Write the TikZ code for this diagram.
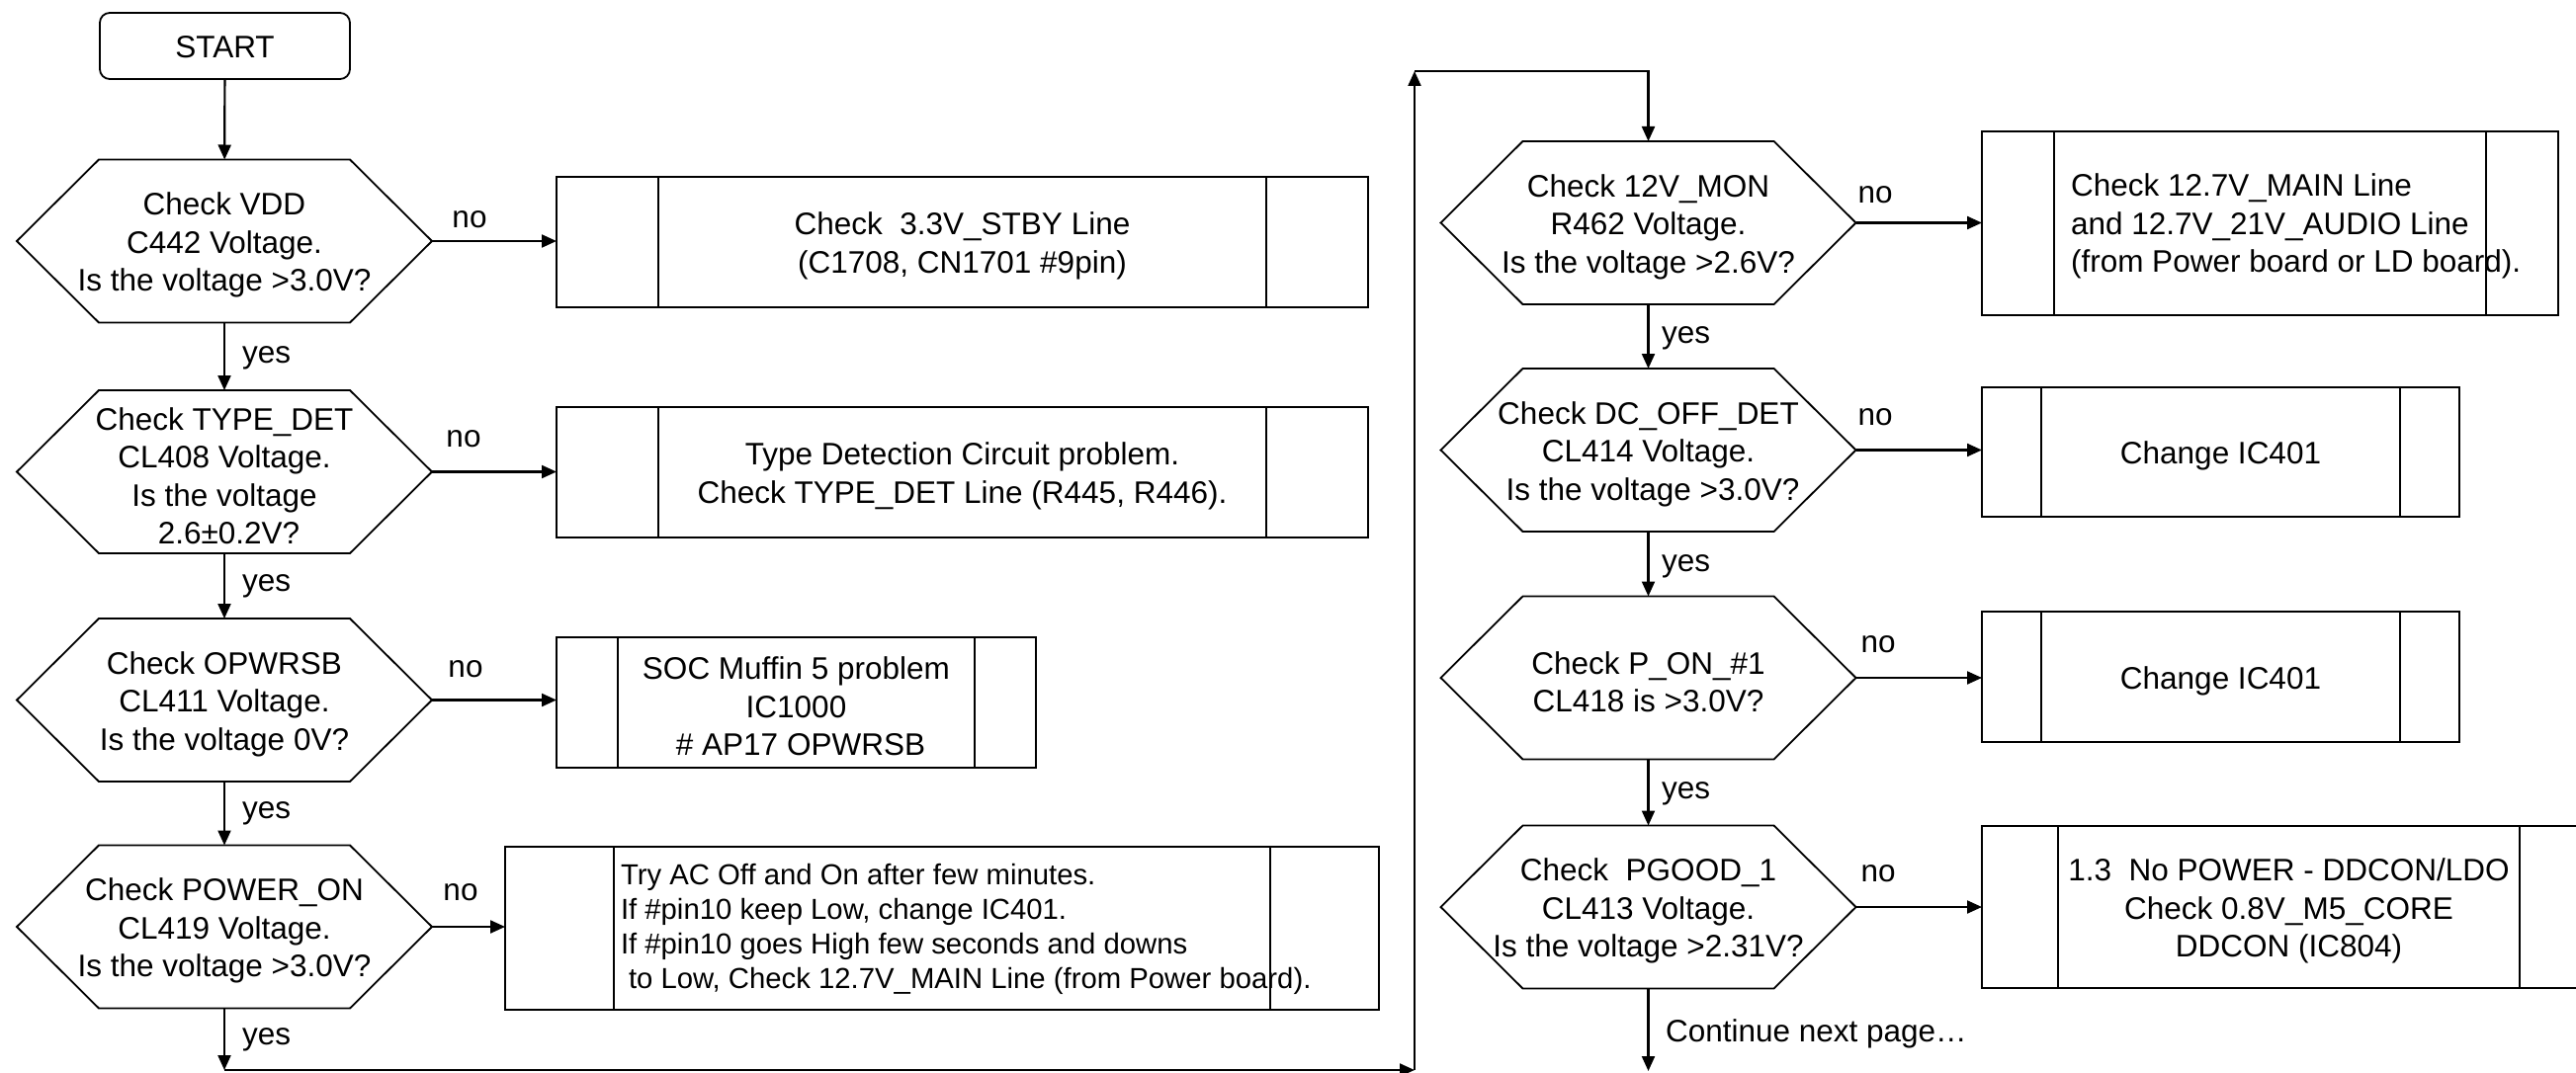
\documentclass[tikz,border=0pt]{standalone}
\usepackage{fontspec}
\setmainfont{Liberation Sans}
\usetikzlibrary{arrows.meta,calc}
\tikzset{
  base/.style={inner sep=0pt, outer sep=0pt, font=\fontsize{31.5}{38.5}\selectfont, align=center},
  lbl/.style={base},
  txt/.style={label={[lbl,yshift=-4pt]center:{#1}}},
  hexnode/.style={base, minimum width=420pt, minimum height=165pt},
  procbox/.style={base, draw, line width=1.8pt, rectangle},
  startbox/.style={base, draw, line width=1.8pt, rounded corners=10pt, minimum width=253pt, minimum height=67pt},
  arr/.style={line width=2.2pt, -{Triangle[length=15pt,width=13pt]}},
}
\newcommand{\hexdraw}[1]{\draw[line width=1.8pt] (#1.west) -- ([xshift=83pt]#1.north west) -- ([xshift=-83pt]#1.north east) -- (#1.east) -- ([xshift=-83pt]#1.south east) -- ([xshift=83pt]#1.south west) -- cycle;}
\newcommand{\bars}[2]{\draw[line width=1.8pt] ([xshift=#2]#1.north west) -- ([xshift=#2]#1.south west) ([xshift=-#2]#1.north east) -- ([xshift=-#2]#1.south east);}
\begin{document}
\begin{tikzpicture}[x=1pt,y=-1pt]
\useasboundingbox (0,0) rectangle (2606,1086);
\clip (0,0) rectangle (2606,1086);
% left column
\node[startbox, label={[lbl,yshift=-1.5pt]center:START}] (start) at (227.5,46.5) {};
\node[hexnode, txt={Check VDD\\C442 Voltage.\\Is the voltage >3.0V?}] (L1) at (227,244) {};
\node[hexnode, txt={Check TYPE\_DET\\CL408 Voltage.\\Is the voltage\\\hspace*{9pt}2.6±0.2V?}] (L2) at (227,477.5) {};
\node[hexnode, txt={Check OPWRSB\\CL411 Voltage.\\Is the voltage 0V?}] (L3) at (227,708.5) {};
\node[hexnode, txt={Check POWER\_ON\\CL419 Voltage.\\Is the voltage >3.0V?}] (L4) at (227,938) {};
\hexdraw{L1}\hexdraw{L2}\hexdraw{L3}\hexdraw{L4}
% left boxes
\node[procbox, minimum width=821pt, minimum height=132pt, txt={Check\ \ 3.3V\_STBY Line\\(C1708, CN1701 \#9pin)}] (B1) at (973.5,245) {};
\bars{B1}{103pt}
\node[procbox, minimum width=821pt, minimum height=132pt, txt={Type Detection Circuit problem.\\Check TYPE\_DET Line (R445, R446).}] (B2) at (973.5,478) {};
\bars{B2}{103pt}
\node[procbox, minimum width=485pt, minimum height=132pt, txt={SOC Muffin 5 problem\\IC1000\\\hspace*{9pt}\# AP17 OPWRSB}] (B3) at (805.5,711) {};
\bars{B3}{62pt}
\node[procbox, minimum width=884pt, minimum height=165pt] (B4) at (953,939.5) {};
\bars{B4}{110pt}
\node[base, anchor=west, align=left, font=\fontsize{29.3}{35}\selectfont] (B4t) at (628,940) {Try AC Off and On after few minutes.\\If \#pin10 keep Low, change IC401.\\If \#pin10 goes High few seconds and downs\\\hspace*{8pt}to Low, Check 12.7V\_MAIN Line (from Power board).};
% right column
\node[hexnode, txt={Check 12V\_MON\\R462 Voltage.\\Is the voltage >2.6V?}] (R1) at (1667.5,225.5) {};
\node[hexnode, txt={Check DC\_OFF\_DET\\CL414 Voltage.\\\hspace*{9pt}Is the voltage >3.0V?}] (R2) at (1667.5,455.5) {};
\node[hexnode, txt={Check P\_ON\_\#1\\CL418 is >3.0V?}] (R3) at (1667.5,686) {};
\node[hexnode, txt={Check\ \ PGOOD\_1\\CL413 Voltage.\\Is the voltage >2.31V?}] (R4) at (1667.5,918) {};
\hexdraw{R1}\hexdraw{R2}\hexdraw{R3}\hexdraw{R4}
\node[procbox, minimum width=583pt, minimum height=186pt] (C1) at (2296.5,226) {};
\bars{C1}{73pt}
\node[base, anchor=west, align=left] (C1t) at (2095,229) {Check 12.7V\_MAIN Line\\and 12.7V\_21V\_AUDIO Line\\(from Power board or LD board).};
\node[procbox, minimum width=483pt, minimum height=131pt, txt={Change IC401}] (C2) at (2246.5,457.5) {};
\bars{C2}{60pt}
\node[procbox, minimum width=483pt, minimum height=132pt, txt={Change IC401}] (C3) at (2246.5,685) {};
\bars{C3}{60pt}
\node[procbox, minimum width=621pt, minimum height=164pt, txt={1.3\ \ No POWER - DDCON/LDO\\Check 0.8V\_M5\_CORE\\DDCON (IC804)}] (C4) at (2315.5,918) {};
\bars{C4}{77pt}
% connectors
\draw[arr] (start) -- (L1);
\draw[arr] (L1) -- (L2);
\draw[arr] (L2) -- (L3);
\draw[arr] (L3) -- (L4);
\draw[arr] (L1.east) -- (L1.east -| B1.west);
\draw[arr] (L2.east) -- (L2.east -| B2.west);
\draw[arr] (L3.east) -- (L3.east -| B3.west);
\draw[arr] (L4.east) -- (L4.east -| B4.west);
\coordinate (c1) at (227,1083);
\coordinate (c2) at (1431,1083);
\coordinate (c3) at (1431,72);
\coordinate (c4) at (1667.5,1084);
\draw[arr] (L4.south) -- (c1);
\draw[arr] (c1) -- (c2);
\draw[arr] (c2) -- (c3);
\draw[arr] (c3) -| (R1.north);
\draw[arr] (R1) -- (R2);
\draw[arr] (R2) -- (R3);
\draw[arr] (R3) -- (R4);
\draw[arr] (R4.south) -- (c4);
\draw[arr] (R1.east) -- (R1.east -| C1.west);
\draw[arr] (R2.east) -- (R2.east -| C2.west);
\draw[arr] (R3.east) -- (R3.east -| C3.west);
\draw[arr] (R4.east) -- (R4.east -| C4.west);
% labels
\node[lbl] (n1) at (475,222) {no};
\node[lbl] (n2) at (469,444) {no};
\node[lbl] (n3) at (471,677) {no};
\node[lbl] (n4) at (466,903) {no};
\node[lbl] (n5) at (1897,197) {no};
\node[lbl] (n6) at (1897,422) {no};
\node[lbl] (n7) at (1900,652) {no};
\node[lbl] (n8) at (1900,884) {no};
\node[lbl, anchor=west] (y1) at (245,362) {yes};
\node[lbl, anchor=west] (y2) at (245,593) {yes};
\node[lbl, anchor=west] (y3) at (245,823) {yes};
\node[lbl, anchor=west] (y4) at (245,1052) {yes};
\node[lbl, anchor=west] (y5) at (1681,342) {yes};
\node[lbl, anchor=west] (y6) at (1681,573) {yes};
\node[lbl, anchor=west] (y7) at (1681,803) {yes};
\node[lbl, anchor=west] (cont) at (1685,1046) {Continue next page…};
\end{tikzpicture}
\end{document}
